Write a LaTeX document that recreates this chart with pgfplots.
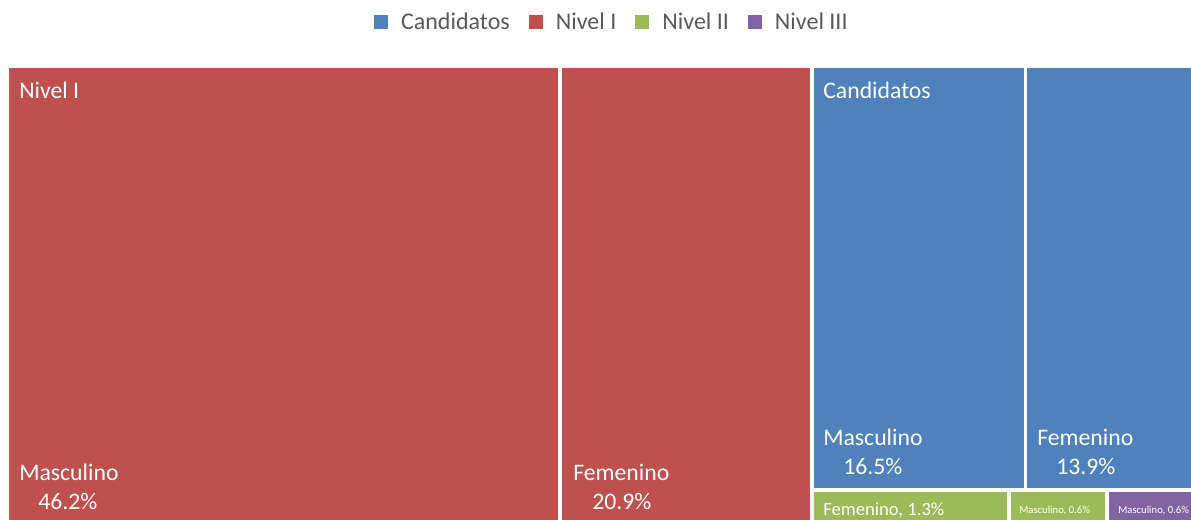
\documentclass[border=0pt]{standalone}
\usepackage{pgfplots}
\pgfplotsset{compat=1.18}
\usepackage{fontspec}
\setmainfont{Carlito}
\definecolor{cblue}{HTML}{4F81BD}
\definecolor{cred}{HTML}{C0504D}
\definecolor{cgreen}{HTML}{9BBB59}
\definecolor{cpurple}{HTML}{8064A2}
\definecolor{ltext}{HTML}{595959}
\begin{document}
\begin{tikzpicture}
\begin{axis}[
  scale only axis, width=893.25pt, height=390pt,
  xmin=0, xmax=1191, ymin=0, ymax=520, y dir=reverse,
  hide axis, clip=true,
  legend style={at={(axis cs:612,22)}, anchor=center, draw=none, fill=none,
    legend columns=4, font=\fontsize{18}{21}\selectfont\color{ltext},
    /tikz/every odd column/.append style={column sep=8pt},
    /tikz/every even column/.append style={column sep=12pt},
    legend cell align=left},
  legend image code/.code={\path[#1, draw=none] (0pt,-5.25pt) rectangle (10.5pt,5.25pt);},
]
% Nivel I Masculino 46.2
\addplot[fill=cred, draw=none, forget plot] coordinates {(9,68) (558,68) (558,530) (9,530)} -- cycle;
% Nivel I Femenino 20.9
\addplot[fill=cred, draw=none, forget plot] coordinates {(562,68) (810,68) (810,530) (562,530)} -- cycle;
% Candidatos Masculino 16.5
\addplot[fill=cblue, draw=none, forget plot] coordinates {(814,68) (1024,68) (1024,488) (814,488)} -- cycle;
% Candidatos Femenino 13.9
\addplot[fill=cblue, draw=none, forget plot] coordinates {(1027,68) (1200,68) (1200,488) (1027,488)} -- cycle;
% Nivel II Femenino 1.3
\addplot[fill=cgreen, draw=none, forget plot] coordinates {(814,492) (1007,492) (1007,530) (814,530)} -- cycle;
% Nivel II Masculino 0.6
\addplot[fill=cgreen, draw=none, forget plot] coordinates {(1011,492) (1105,492) (1105,530) (1011,530)} -- cycle;
% Nivel III Masculino 0.6
\addplot[fill=cpurple, draw=none, forget plot] coordinates {(1109,492) (1200,492) (1200,530) (1109,530)} -- cycle;

\addlegendimage{fill=cblue, draw=none}
\addlegendentry{Candidatos}
\addlegendimage{fill=cred, draw=none}
\addlegendentry{Nivel I}
\addlegendimage{fill=cgreen, draw=none}
\addlegendentry{Nivel II}
\addlegendimage{fill=cpurple, draw=none}
\addlegendentry{Nivel III}

\begin{scope}[every node/.style={text=white, anchor=base west, inner sep=0pt, font=\fontsize{17.8}{21}\selectfont}]
\node at (axis cs:19,99) {Nivel I};
\node at (axis cs:19,480) {Masculino};
\node at (axis cs:38,509) {46.2\%};
\node at (axis cs:573,480) {Femenino};
\node at (axis cs:592,509) {20.9\%};
\node at (axis cs:823,99) {Candidatos};
\node at (axis cs:823,445) {Masculino};
\node at (axis cs:843,474) {16.5\%};
\node at (axis cs:1037,445) {Femenino};
\node at (axis cs:1056,474) {13.9\%};
\node[font=\fontsize{14}{16}\selectfont] at (axis cs:823,515) {Femenino, 1.3\%};
\node[font=\fontsize{8}{10}\selectfont] at (axis cs:1019,513) {Masculino, 0.6\%};
\node[font=\fontsize{8}{10}\selectfont] at (axis cs:1118,513) {Masculino, 0.6\%};
\end{scope}
\coordinate (BBSW) at (rel axis cs:0,0);
\coordinate (BBNE) at (rel axis cs:1,1);
\end{axis}
\pgfresetboundingbox
\path (BBSW) rectangle (BBNE);
\end{tikzpicture}
\end{document}
